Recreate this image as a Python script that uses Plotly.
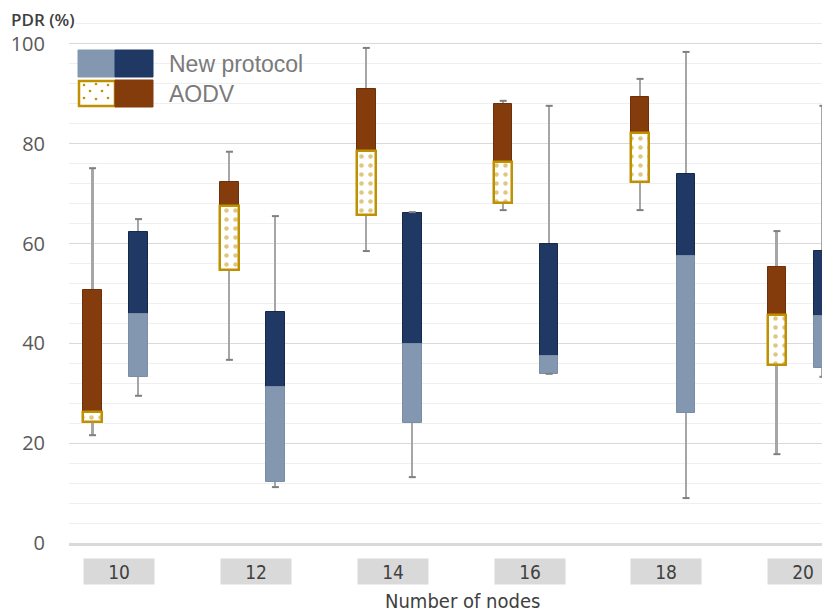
import plotly.graph_objects as go

# ---------------- data ----------------
nodes = ["10", "12", "14", "16", "18", "20"]

aodv_min = [21.6, 36.7, 58.5, 66.7, 66.7, 17.8]
aodv_q1 = [24.2, 54.7, 65.7, 68.1, 72.3, 35.7]
aodv_med = [26.2, 67.5, 78.6, 76.4, 82.2, 45.7]
aodv_q3 = [50.7, 72.3, 91.0, 88.0, 89.4, 55.3]
aodv_max = [75.1, 78.4, 99.2, 88.6, 93.0, 62.5]

new_min = [29.5, 11.2, 13.2, 33.9, 9.0, 33.3]
new_q1 = [33.3, 12.2, 24.0, 33.9, 26.0, 35.1]
new_med = [45.9, 31.3, 39.9, 37.5, 57.5, 45.5]
new_q3 = [62.3, 46.3, 66.1, 59.9, 73.9, 58.5]
new_max = [64.9, 65.5, 66.3, 87.6, 98.4, 87.6]

y_ticks = [0, 20, 40, 60, 80, 100]

# ---------------- styling ----------------
BROWN = "#843C0C"
GOLD = "#BF9000"
NAVY = "#1F3864"
STEEL = "#8497B0"
WHISK = "#A6A6A6"
NARROW = "Liberation Sans Narrow, DejaVu Sans Condensed, Roboto"

# the page body adds an 8 px offset; work in screen pixels (S) and convert
BODY = 8
W, H = 830, 614
ML, MR, MT, MB = 61, 0, 0, 79
PW, PH = W - ML - MR, H - MT - MB

pos = list(range(len(nodes)))
off = 0.168
bw = 0.135
ww = 0.014
ax = [p - off for p in pos]
nx = [p + off for p in pos]


def diff(a, b):
    return [x - y for x, y in zip(a, b)]


fig = go.Figure()

# whiskers (drawn first, behind boxes)
for xs, lo, hi in [(ax, aodv_min, aodv_max), (nx, new_min, new_max)]:
    fig.add_trace(go.Bar(x=xs, base=lo, y=diff(hi, lo), width=ww,
                         marker=dict(color=WHISK, line=dict(width=0)),
                         showlegend=False, hoverinfo="skip"))

# AODV upper (median -> Q3)
fig.add_trace(go.Bar(x=ax, base=aodv_med, y=diff(aodv_q3, aodv_med), width=bw,
                     marker=dict(color=BROWN, line=dict(color="#6E300A", width=1)),
                     showlegend=False))
# AODV lower (Q1 -> median), dotted
fig.add_trace(go.Bar(x=ax, base=aodv_q1, y=diff(aodv_med, aodv_q1), width=bw,
                     marker=dict(color="white", line=dict(color=GOLD, width=2.5),
                                 pattern=dict(shape=".", fgcolor=GOLD, bgcolor="white",
                                              size=9, solidity=0.2)),
                     showlegend=False))
# New protocol upper
fig.add_trace(go.Bar(x=nx, base=new_med, y=diff(new_q3, new_med), width=bw,
                     marker=dict(color=NAVY, line=dict(color="#17294A", width=1)),
                     showlegend=False))
# New protocol lower
fig.add_trace(go.Bar(x=nx, base=new_q1, y=diff(new_med, new_q1), width=bw,
                     marker=dict(color=STEEL, line=dict(color="#7A8CA6", width=1)),
                     showlegend=False))

# whisker caps
fig.add_trace(go.Scatter(x=ax + nx, y=aodv_min + new_min, mode="markers",
                         marker=dict(symbol="line-ew", size=5, line=dict(color="#7F7F7F", width=2)),
                         showlegend=False, hoverinfo="skip"))
fig.add_trace(go.Scatter(x=ax + nx, y=aodv_max + new_max, mode="markers",
                         marker=dict(symbol="line-ew", size=5, line=dict(color="#7F7F7F", width=2)),
                         showlegend=False, hoverinfo="skip"))


# ---------------- layout ----------------
def px_x(s):
    return (s - BODY - ML) / PW


def px_y(s):
    return 1 - (s - BODY - MT) / PH


annotations = []
shapes = []

# category label boxes
for p, lab in zip(pos, nodes):
    annotations.append(dict(x=p + 0.025, y=0, xref="x", yref="y", text=lab,
                            showarrow=False, yanchor="middle", yshift=-28.5,
                            width=70, height=25, bgcolor="#D9D9D9", borderpad=0,
                            font=dict(family=NARROW, size=19, color="#404040")))

annotations.append(dict(x=px_x(463), y=px_y(601), xref="paper", yref="paper",
                        text="Number of nodes", showarrow=False,
                        yanchor="middle",
                        font=dict(family=NARROW, size=20, color="#404040")))

annotations.append(dict(x=px_x(10), y=px_y(19), xref="paper", yref="paper", text="PDR (%)",
                        showarrow=False, xanchor="left", yanchor="middle",
                        bgcolor="white", borderpad=0,
                        font=dict(family="Open Sans", size=17, color="#404040", weight=600)))

# legend
leg = [("New protocol", 64, STEEL, NAVY), ("AODV", 94, None, BROWN)]
for text, cy, c1, c2 in leg:
    y0, y1 = cy - 14, cy + 13
    if c1:
        shapes.append(dict(type="rect", xref="paper", yref="paper",
                           x0=px_x(78), x1=px_x(115), y0=px_y(y1), y1=px_y(y0),
                           fillcolor=c1, line=dict(color=c1, width=1)))
    else:
        shapes.append(dict(type="rect", xref="paper", yref="paper",
                           x0=px_x(79), x1=px_x(115), y0=px_y(y1 - 1), y1=px_y(y0 + 1),
                           fillcolor="white", line=dict(color=GOLD, width=2.5)))
        for dx, dy in [(84, 85), (96, 84), (108, 85), (90, 91), (102, 91), (84, 98), (96, 99), (108, 98)]:
            shapes.append(dict(type="circle", xref="paper", yref="paper",
                               x0=px_x(dx - 1.3), x1=px_x(dx + 1.3),
                               y0=px_y(dy + 1.3), y1=px_y(dy - 1.3),
                               fillcolor=GOLD, line=dict(width=0)))
    shapes.append(dict(type="rect", xref="paper", yref="paper",
                       x0=px_x(115), x1=px_x(153), y0=px_y(y1), y1=px_y(y0),
                       fillcolor=c2, line=dict(color=c2, width=1)))
    annotations.append(dict(x=px_x(167), y=px_y(cy), xref="paper", yref="paper",
                            text=text, showarrow=False, xanchor="left", yanchor="middle",
                            font=dict(family="Liberation Sans, Arial", size=23, color="#7A7A7A")))

fig.update_layout(
    width=W, height=H,
    margin=dict(l=ML, r=MR, t=MT, b=MB, pad=0, autoexpand=False),
    paper_bgcolor="white", plot_bgcolor="white",
    barmode="overlay", bargap=0,
    showlegend=False,
    annotations=annotations, shapes=shapes,
    xaxis=dict(range=[-0.34, 5.278], showticklabels=False, showgrid=False,
               zeroline=False, showline=True, linecolor="#D9D9D9", linewidth=3,
               ticks="", fixedrange=True, automargin=False),
    yaxis=dict(range=[0, 107.2], tickvals=y_ticks, ticktext=[str(v) for v in y_ticks],
               showgrid=True, gridcolor="#D9D9D9", gridwidth=1.3,
               minor=dict(dtick=4, tick0=0, showgrid=True, gridcolor="#EFEFEF", gridwidth=1),
               zeroline=False, showline=False, ticks="", automargin=False,
               ticklabelstandoff=23,
               tickfont=dict(family="Open Sans", size=20, color="#595959")),
)

fig.write_html("out.html")
